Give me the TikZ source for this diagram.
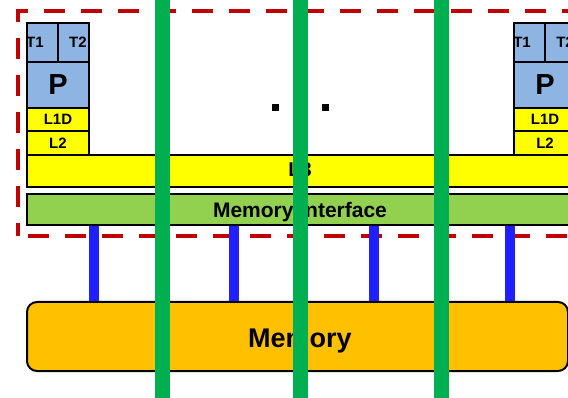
\documentclass[tikz,border=0pt]{standalone}
\usepackage{fontspec}
\setmainfont{Liberation Sans}
\definecolor{procblue}{HTML}{8EB4E3}
\definecolor{cacheyel}{HTML}{FFFF00}
\definecolor{memorange}{HTML}{FFC000}
\definecolor{migreen}{HTML}{92D050}
\definecolor{darkred}{HTML}{C00000}
\definecolor{sepgreen}{HTML}{00B050}
\definecolor{busblue}{HTML}{1F1FFF}
\newcommand{\fs}[1]{\fontsize{#1}{#1}\selectfont\bfseries}
\begin{document}
\begin{tikzpicture}[x=1pt,y=-1pt,
  box/.style={draw=black, line width=2pt, inner sep=0pt, anchor=north west},
  procbox/.style={box, fill=procblue},
  cachebox/.style={box, fill=cacheyel},
  lbl/.style={inner sep=0pt, text=black},
  reddash/.style={draw=darkred, line width=4.5pt, dash pattern=on 21pt off 16pt, dash phase=8pt},
  bus/.style={draw=busblue, line width=10pt},
  sep/.style={draw=sepgreen, line width=15pt},
  dotsq/.style={fill=black, minimum size=7pt, inner sep=0pt}]
\useasboundingbox (0,0) rectangle (568,398);
\clip (0,0) rectangle (568,398);

% dashed chip boundary
\draw[reddash] (18,236) rectangle (600,11);

% left processor
\node[procbox, minimum width=31pt, minimum height=39pt] (t1L) at (26,22) {};
\node[procbox, minimum width=31pt, minimum height=39pt] (t2L) at (57,22) {};
\node[procbox, minimum width=62pt, minimum height=46pt] (pL) at (26,61) {};
\node[cachebox, minimum width=62pt, minimum height=23pt] (l1L) at (26,107) {};
\node[cachebox, minimum width=62pt, minimum height=24pt] (l2L) at (26,130) {};
\node[lbl, font=\fs{15}] (t1Lt) at (35,42) {T1};
\node[lbl, font=\fs{15}] (t2Lt) at (78,42) {T2};
\node[lbl, font=\fs{29}] (pLt) at (pL.center) {P};
\node[lbl, font=\fs{15}] (l1Lt) at (l1L.center) {L1D};
\node[lbl, font=\fs{15}] (l2Lt) at (l2L.center) {L2};

% right processor
\node[procbox, minimum width=31pt, minimum height=39pt] (t1R) at (513,22) {};
\node[procbox, minimum width=31pt, minimum height=39pt] (t2R) at (544,22) {};
\node[procbox, minimum width=62pt, minimum height=46pt] (pR) at (513,61) {};
\node[cachebox, minimum width=62pt, minimum height=23pt] (l1R) at (513,107) {};
\node[cachebox, minimum width=62pt, minimum height=24pt] (l2R) at (513,130) {};
\node[lbl, font=\fs{15}] (t1Rt) at (522,42) {T1};
\node[lbl, font=\fs{15}] (t2Rt) at (565,42) {T2};
\node[lbl, font=\fs{29}] (pRt) at (pR.center) {P};
\node[lbl, font=\fs{15}] (l1Rt) at (l1R.center) {L1D};
\node[lbl, font=\fs{15}] (l2Rt) at (l2R.center) {L2};

% dots
\node[dotsq] (d1) at (275,108) {};
\node[dotsq] (d2) at (325,108) {};

% L3 and memory interface
\node[cachebox, minimum width=548pt, minimum height=32pt] (l3) at (26,154) {};
\node[lbl, font=\fs{20}] (l3t) at (300,170) {L3};
\node[box, fill=migreen, minimum width=548pt, minimum height=31pt] (mi) at (26,193) {};
\node[lbl, font=\fs{21}, anchor=base] (mit) at (300,218) {Memory interface};

% memory
\node[box, fill=memorange, rounded corners=10pt, minimum width=541pt, minimum height=69pt] (mem) at (26,301) {};
\node[lbl, font=\fs{27}, anchor=base] (memt) at (300,347) {Memory};

% buses
\coordinate (b1) at (94,0);
\coordinate (b2) at (234,0);
\coordinate (b3) at (374,0);
\coordinate (b4) at (510,0);
\foreach \b in {b1,b2,b3,b4}
  \draw[bus] (mi.south -| \b) -- (mem.north -| \b);

% green separators
\coordinate (g1t) at (162,0);  \coordinate (g1b) at (162,398);
\coordinate (g2t) at (300,0);  \coordinate (g2b) at (300,398);
\coordinate (g3t) at (441,0);  \coordinate (g3b) at (441,398);
\draw[sep] (g1t) -- (g1b);
\draw[sep] (g2t) -- (g2b);
\draw[sep] (g3t) -- (g3b);
\end{tikzpicture}
\end{document}
